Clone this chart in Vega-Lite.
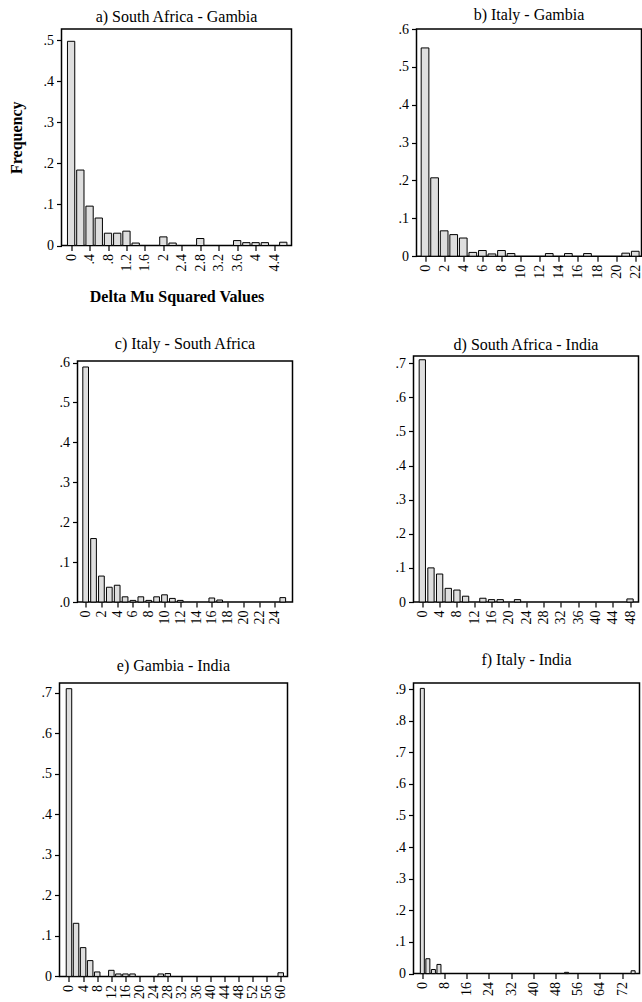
{
  "$schema": "https://vega.github.io/schema/vega-lite/v6.json",
  "background": "white",
  "padding": {"left": 2.5, "top": 6, "right": 0, "bottom": 0},
  "autosize": {"type": "pad"},
  "datasets": {
    "a": [{"delta":0,"freq":0.498},{"delta":0.2,"freq":0.184},{"delta":0.4,"freq":0.096},{"delta":0.6,"freq":0.067},{"delta":0.8,"freq":0.030},{"delta":1.0,"freq":0.030},{"delta":1.2,"freq":0.035},{"delta":1.4,"freq":0.006},{"delta":2.0,"freq":0.021},{"delta":2.2,"freq":0.006},{"delta":2.8,"freq":0.017},{"delta":3.6,"freq":0.012},{"delta":3.8,"freq":0.007},{"delta":4.0,"freq":0.007},{"delta":4.2,"freq":0.007},{"delta":4.6,"freq":0.008}],
    "b": [{"delta":0,"freq":0.55},{"delta":1,"freq":0.207},{"delta":2,"freq":0.067},{"delta":3,"freq":0.057},{"delta":4,"freq":0.048},{"delta":5,"freq":0.010},{"delta":6,"freq":0.015},{"delta":7,"freq":0.006},{"delta":8,"freq":0.015},{"delta":9,"freq":0.007},{"delta":13,"freq":0.007},{"delta":15,"freq":0.007},{"delta":17,"freq":0.007},{"delta":21,"freq":0.008},{"delta":22,"freq":0.013}],
    "c": [{"delta":0,"freq":0.589},{"delta":1,"freq":0.159},{"delta":2,"freq":0.065},{"delta":3,"freq":0.037},{"delta":4,"freq":0.042},{"delta":5,"freq":0.013},{"delta":6,"freq":0.004},{"delta":7,"freq":0.013},{"delta":8,"freq":0.004},{"delta":9,"freq":0.013},{"delta":10,"freq":0.018},{"delta":11,"freq":0.009},{"delta":12,"freq":0.004},{"delta":16,"freq":0.010},{"delta":17,"freq":0.005},{"delta":25,"freq":0.011}],
    "d": [{"delta":0,"freq":0.71},{"delta":2,"freq":0.100},{"delta":4,"freq":0.082},{"delta":6,"freq":0.040},{"delta":8,"freq":0.035},{"delta":10,"freq":0.017},{"delta":14,"freq":0.011},{"delta":16,"freq":0.007},{"delta":18,"freq":0.007},{"delta":22,"freq":0.007},{"delta":48,"freq":0.009}],
    "e": [{"delta":0,"freq":0.71},{"delta":2,"freq":0.131},{"delta":4,"freq":0.071},{"delta":6,"freq":0.039},{"delta":8,"freq":0.011},{"delta":12,"freq":0.015},{"delta":14,"freq":0.006},{"delta":16,"freq":0.006},{"delta":18,"freq":0.006},{"delta":26,"freq":0.006},{"delta":28,"freq":0.007},{"delta":60,"freq":0.009}],
    "f": [{"delta":0,"freq":0.902},{"delta":2,"freq":0.047},{"delta":4,"freq":0.013},{"delta":6,"freq":0.029},{"delta":52,"freq":0.004},{"delta":76,"freq":0.009}]
  },
  "columns": 3,
  "align": "none",
  "bounds": "full",
  "spacing": {"row": 10, "column": 4},
  "concat": [
    {"width": 1, "height": 1, "data": {"values": []}, "mark": {"type": "point"}, "encoding": {}, "view": {"stroke": null}},
    {
      "data": {"name": "a"},
      "width": 230, "height": 216.5,
      "title": {"text": "a) South Africa - Gambia", "offset": 4},
      "mark": {"type": "bar", "width": 7.3, "fill": "#dedede", "stroke": "black", "strokeWidth": 1},
      "encoding": {
        "x": {"field": "delta", "type": "quantitative", "scale": {"domain": [-0.1, 4.67], "nice": false, "zero": false},
              "axis": {"values": [0, 0.4, 0.8, 1.2, 1.6, 2, 2.4, 2.8, 3.2, 3.6, 4, 4.4], "format": "~g", "labelExpr": "replace(datum.label, '0.', '.')", "title": "Delta Mu Squared Values", "titlePadding": 17}},
        "y": {"field": "freq", "type": "quantitative", "scale": {"domain": [0, 0.528], "nice": false},
              "axis": {"values": [0, 0.1, 0.2, 0.3, 0.4, 0.5], "format": "~g", "labelExpr": "replace(datum.label, '0.', '.')", "title": "Frequency", "minExtent": 25, "titlePadding": 12}}
      }
    },
    {
      "data": {"name": "b"},
      "width": 225, "height": 227.2,
      "title": {"text": "b) Italy - Gambia", "offset": -1.2},
      "mark": {"type": "bar", "width": 7.7, "fill": "#dedede", "stroke": "black", "strokeWidth": 1, "clip": true},
      "encoding": {
        "x": {"field": "delta", "type": "quantitative", "scale": {"domain": [-0.37, 22.13], "nice": false, "zero": false},
              "axis": {"values": [0, 2, 4, 6, 8, 10, 12, 14, 16, 18, 20, 22], "title": null, "minExtent": 67.8}},
        "y": {"field": "freq", "type": "quantitative", "scale": {"domain": [0, 0.6], "nice": false},
              "axis": {"values": [0, 0.1, 0.2, 0.3, 0.4, 0.5, 0.6], "format": "~g", "labelExpr": "replace(datum.label, '0.', '.')", "title": null, "minExtent": 118.5}}
      }
    },
    {"width": 1, "height": 1, "data": {"values": []}, "mark": {"type": "point"}, "encoding": {}, "view": {"stroke": null}},
    {
      "data": {"name": "c"},
      "width": 215, "height": 241,
      "title": {"text": "c) Italy - South Africa", "offset": 3.2},
      "mark": {"type": "bar", "width": 5.7, "fill": "#dedede", "stroke": "black", "strokeWidth": 1},
      "encoding": {
        "x": {"field": "delta", "type": "quantitative", "scale": {"domain": [-0.4, 25.6], "nice": false, "zero": false},
              "axis": {"values": [0, 2, 4, 6, 8, 10, 12, 14, 16, 18, 20, 22, 24], "title": null}},
        "y": {"field": "freq", "type": "quantitative", "scale": {"domain": [0, 0.604], "nice": false},
              "axis": {"values": [0, 0.1, 0.2, 0.3, 0.4, 0.5, 0.6], "format": ".1f", "labelExpr": "replace(datum.label, '0.', '.')", "title": null, "minExtent": 68.7}}
      }
    },
    {
      "data": {"name": "d"},
      "width": 225, "height": 246,
      "title": {"text": "d) South Africa - India", "offset": 3.5},
      "mark": {"type": "bar", "width": 6.3, "fill": "#dedede", "stroke": "black", "strokeWidth": 1},
      "encoding": {
        "x": {"field": "delta", "type": "quantitative", "scale": {"domain": [-0.88, 48.8], "nice": false, "zero": false},
              "axis": {"values": [0, 4, 8, 12, 16, 20, 24, 28, 32, 36, 40, 44, 48], "title": null, "minExtent": 38.1}},
        "y": {"field": "freq", "type": "quantitative", "scale": {"domain": [0, 0.721], "nice": false},
              "axis": {"values": [0, 0.1, 0.2, 0.3, 0.4, 0.5, 0.6, 0.7], "format": "~g", "labelExpr": "replace(datum.label, '0.', '.')", "title": null, "minExtent": 100.1}}
      }
    },
    {"width": 1, "height": 1, "data": {"values": []}, "mark": {"type": "point"}, "encoding": {}, "view": {"stroke": null}},
    {
      "data": {"name": "e"},
      "width": 228, "height": 293.4,
      "title": {"text": "e) Gambia - India", "offset": 9.5},
      "mark": {"type": "bar", "width": 5.5, "fill": "#dedede", "stroke": "black", "strokeWidth": 1},
      "encoding": {
        "x": {"field": "delta", "type": "quantitative", "scale": {"domain": [-1.27, 60.5], "nice": false, "zero": false},
              "axis": {"values": [0, 4, 8, 12, 16, 20, 24, 28, 32, 36, 40, 44, 48, 52, 56, 60], "title": null}},
        "y": {"field": "freq", "type": "quantitative", "scale": {"domain": [0, 0.724], "nice": false},
              "axis": {"values": [0, 0.1, 0.2, 0.3, 0.4, 0.5, 0.6, 0.7], "format": "~g", "labelExpr": "replace(datum.label, '0.', '.')", "title": null, "minExtent": 50.3}}
      }
    },
    {
      "data": {"name": "f"},
      "width": 226, "height": 290.6,
      "title": {"text": "f) Italy - India", "offset": 13.6},
      "mark": {"type": "bar", "width": 4, "fill": "#dedede", "stroke": "black", "strokeWidth": 1},
      "encoding": {
        "x": {"field": "delta", "type": "quantitative", "scale": {"domain": [-1.38, 76.5], "nice": false, "zero": false},
              "axis": {"values": [0, 8, 16, 24, 32, 40, 48, 56, 64, 72], "title": null}},
        "y": {"field": "freq", "type": "quantitative", "scale": {"domain": [0, 0.919], "nice": false},
              "axis": {"values": [0, 0.1, 0.2, 0.3, 0.4, 0.5, 0.6, 0.7, 0.8, 0.9], "format": "~g", "labelExpr": "replace(datum.label, '0.', '.')", "title": null, "minExtent": 117.5}}
      }
    }
  ],
  "config": {
    "font": "Liberation Serif",
    "view": {"stroke": "black", "strokeWidth": 1.5},
    "title": {"font": "Liberation Serif", "fontSize": 16, "fontWeight": "normal", "color": "black", "anchor": "middle"},
    "axis": {
      "grid": false,
      "domain": false,
      "ticks": true,
      "tickColor": "black",
      "tickWidth": 1.2,
      "tickSize": 5,
      "labelFont": "Liberation Serif",
      "labelFontSize": 14,
      "labelColor": "black",
      "labelPadding": 3,
      "titleFont": "Liberation Serif",
      "titleFontSize": 16,
      "titleFontWeight": "bold",
      "titleColor": "black"
    },
    "axisX": {"labelAngle": -90, "labelOverlap": false},
    "axisY": {"labelOverlap": false}
  }
}
